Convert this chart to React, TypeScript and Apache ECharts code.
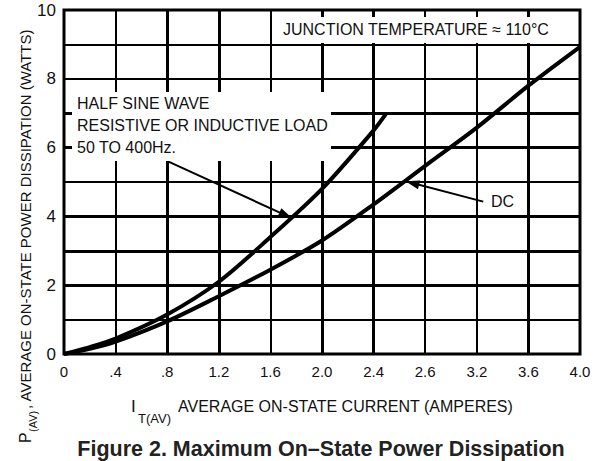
import React, { useEffect, useRef } from 'react';
import * as echarts from 'echarts';

// ---- data ----
const halfSineCurrent = [0, 0.2, 0.4, 0.8, 1.2, 1.6, 2.0, 2.4, 2.5];
const halfSinePower = [0, 0.2, 0.45, 1.15, 2.1, 3.4, 4.8, 6.5, 7.0];
const dcCurrent = [0, 0.2, 0.4, 0.8, 1.2, 1.6, 2.0, 2.4, 2.8, 3.2, 3.6, 4.0];
const dcPower = [0, 0.15, 0.36, 0.95, 1.68, 2.45, 3.3, 4.35, 5.47, 6.58, 7.8, 8.93];
const xTickLabels = ['0', '.4', '.8', '1.2', '1.6', '2.0', '2.4', '2.6', '3.2', '3.6', '4.0'];
const yTickLabels = ['0', '2', '4', '6', '8', '10'];
const xGridValues = [0.4, 0.8, 1.2, 1.6, 2.0, 2.4, 2.8, 3.2, 3.6];
const yGridValues = [1, 2, 3, 4, 5, 6, 7, 8, 9];
const halfSineArrowFrom = [0.81, 5.59];
const halfSineArrowTo = [1.72, 4.03];
const dcArrowFrom = [3.25, 4.43];
const dcArrowTo = [2.7, 4.97];

// ---- styling ----
const heavyX = [0.8, 1.2, 2.0, 2.4, 3.6];
const heavyY = [2, 3, 4, 6, 7];
const SANS = '"Liberation Sans", Arial, sans-serif';
const NARROW = '"Liberation Sans Narrow", "Arial Narrow", "Liberation Sans", sans-serif';
const INK = '#111';

export default function App() {
  const ref = useRef<HTMLDivElement>(null);
  useEffect(() => {
    if (!ref.current) return;
    const chart = echarts.init(ref.current, undefined, { renderer: 'svg' });
    const gridLines = [
      ...xGridValues.map((v) => ({ xAxis: v, lineStyle: { width: heavyX.includes(v) ? 3 : 2 } })),
      ...yGridValues.map((v) => ({ yAxis: v, lineStyle: { width: heavyY.includes(v) ? 3 : 2 } })),
    ];
    chart.setOption({
      animation: false,
      grid: { left: 64, right: 22, top: 10, bottom: 107, show: true, borderColor: '#000', borderWidth: 3, backgroundColor: '#fff' },
      xAxis: {
        type: 'value', min: 0, max: 4, interval: 0.4,
        axisLine: { show: false }, axisTick: { show: false }, splitLine: { show: false },
        axisLabel: { formatter: (_v: number, i: number) => xTickLabels[i] ?? '', fontFamily: NARROW, fontSize: 15, color: INK, margin: 10 },
      },
      yAxis: {
        type: 'value', min: 0, max: 10, interval: 1,
        axisLine: { show: false }, axisTick: { show: false }, splitLine: { show: false },
        axisLabel: { formatter: (v: number) => (yTickLabels.includes(String(v)) ? String(v) : ''), fontFamily: NARROW, fontSize: 17, color: INK, margin: 8 },
      },
      series: [
        {
          name: 'DC', type: 'line', z: 3, smooth: 0.3, symbol: 'none',
          lineStyle: { color: '#000', width: 4 },
          data: dcCurrent.map((x, i) => [x, dcPower[i]]),
          markLine: {
            silent: true, z: 1, symbol: 'none', label: { show: false },
            lineStyle: { color: '#000', type: 'solid' },
            emphasis: { disabled: true },
            data: gridLines,
          },
        },
        {
          name: 'Half sine', type: 'line', z: 3, smooth: 0.3, symbol: 'none',
          lineStyle: { color: '#000', width: 4 },
          data: halfSineCurrent.map((x, i) => [x, halfSinePower[i]]),
          markLine: {
            silent: true, z: 4, symbol: ['none', 'triangle'], symbolSize: [9, 14], label: { show: false },
            lineStyle: { color: '#000', type: 'solid', width: 2 },
            emphasis: { disabled: true },
            data: [
              [{ coord: halfSineArrowFrom }, { coord: halfSineArrowTo }],
              [{ coord: dcArrowFrom }, { coord: dcArrowTo }],
            ],
          },
        },
      ],
      graphic: [
        { type: 'rect', z: 10, shape: { x: 276, y: 17, width: 301, height: 26 }, style: { fill: '#fff' } },
        { type: 'rect', z: 10, shape: { x: 72, y: 92, width: 259, height: 69 }, style: { fill: '#fff' } },
        { type: 'text', z: 11, x: 283, y: 29, style: { text: 'JUNCTION TEMPERATURE ≈ 110°C', fontFamily: SANS, fontSize: 16, fill: INK, verticalAlign: 'middle' } },
        { type: 'text', z: 11, x: 77, y: 103, style: { text: 'HALF SINE WAVE', fontFamily: SANS, fontSize: 16, fill: INK, verticalAlign: 'middle' } },
        { type: 'text', z: 11, x: 77, y: 125, style: { text: 'RESISTIVE OR INDUCTIVE LOAD', fontFamily: SANS, fontSize: 16, fill: INK, verticalAlign: 'middle' } },
        { type: 'text', z: 11, x: 77, y: 147, style: { text: '50 TO 400Hz.', fontFamily: SANS, fontSize: 16, fill: INK, verticalAlign: 'middle' } },
        { type: 'text', z: 11, x: 491, y: 201, style: { text: 'DC', fontFamily: SANS, fontSize: 16, fill: INK, verticalAlign: 'middle' } },
        // x axis name
        { type: 'text', z: 11, x: 131, y: 406, style: { text: 'I', fontFamily: SANS, fontSize: 17, fill: INK, verticalAlign: 'middle' } },
        { type: 'text', z: 11, x: 138, y: 418, style: { text: 'T(AV)', fontFamily: SANS, fontSize: 13, fill: INK, verticalAlign: 'middle' } },
        { type: 'text', z: 11, x: 178, y: 406, style: { text: 'AVERAGE ON-STATE CURRENT (AMPERES)', fontFamily: SANS, fontSize: 16, fill: INK, verticalAlign: 'middle' } },
        // y axis name (rotated)
        { type: 'text', z: 11, x: 25, y: 443, rotation: Math.PI / 2, style: { text: 'P', fontFamily: SANS, fontSize: 16, fill: INK, verticalAlign: 'middle' } },
        { type: 'text', z: 11, x: 33, y: 432, rotation: Math.PI / 2, style: { text: '(AV)', fontFamily: SANS, fontSize: 11, fill: INK, verticalAlign: 'middle' } },
        { type: 'text', z: 11, x: 25, y: 409, rotation: Math.PI / 2, style: { text: ', AVERAGE ON-STATE POWER DISSIPATION (WATTS)', fontFamily: SANS, fontSize: 15, fill: INK, verticalAlign: 'middle' } },
        // caption
        { type: 'text', z: 11, x: 321, y: 449, style: { text: 'Figure 2. Maximum On–State Power Dissipation', fontFamily: SANS, fontSize: 21.5, fontWeight: 'bold', fill: '#222', align: 'center', verticalAlign: 'middle' } },
      ],
    });
    return () => chart.dispose();
  }, []);
  return <div ref={ref} style={{ position: 'fixed', left: 0, top: 0, width: 602, height: 461, background: '#fff' }} />;
}
